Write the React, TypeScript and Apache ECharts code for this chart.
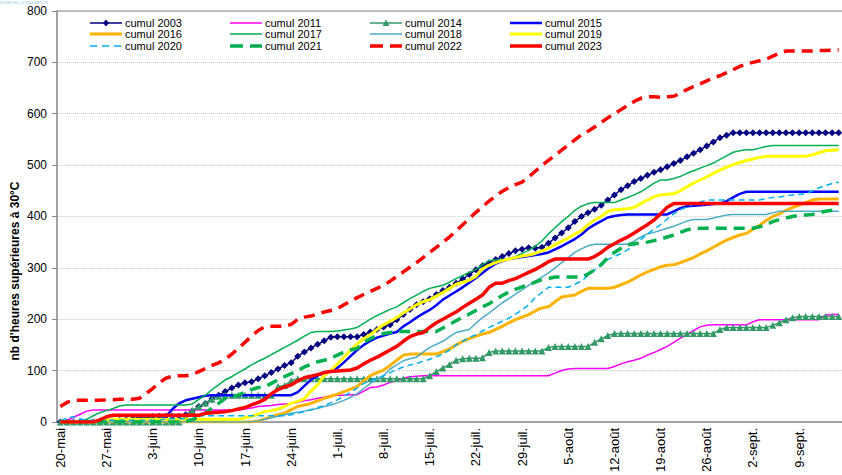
import React, { useEffect, useRef } from "react";
import * as echarts from "echarts";

// ---- categories (daily, 20 May -> 15 Sept) ----
const monthSpans: [string, number, number][] = [
  ["mai", 20, 31],
  ["juin", 1, 30],
  ["juil.", 1, 31],
  ["août", 1, 31],
  ["sept.", 1, 15],
];
const categories: string[] = [];
for (const [m, a, b] of monthSpans) for (let d = a; d <= b; d++) categories.push(`${d}-${m}`);

const yTicks = [0, 100, 200, 300, 400, 500, 600, 700, 800];

// ---- series values (cumulative hours > 30°C) ----
const s2003 = [
  0,0,0,0,0,0,0,1,2,3,
  4,6,8,9,10,11,11,11,11,14,
  21,30,36,45,52,59,66,72,76,78,
  84,90,96,103,110,115,128,136,144,151,
  158,165,166,166,166,166,170,175,180,185,
  189,199,209,219,228,234,240,248,256,262,
  270,278,287,296,304,310,316,322,328,333,
  336,339,338,340,348,358,368,378,390,400,
  407,414,422,432,442,452,460,468,474,480,
  486,491,497,503,509,516,523,530,537,545,
  553,558,563,563,563,563,563,563,563,563,
  563,563,563,563,563,563,563,563,563,
];
const s2011 = [
  0,3,9,15,21,23,23,23,23,23,
  23,23,23,23,23,23,23,23,23,23,
  23,23,23,23,23,23,23,23,25,27,
  30,31,32,34,35,36,38,41,43,46,
  48,51,52,52,53,53,60,67,68,72,
  77,80,85,88,89,90,90,90,90,90,
  90,90,90,90,90,90,90,90,90,90,
  90,90,90,90,90,95,100,103,104,104,
  104,104,104,104,108,113,117,120,124,130,
  135,141,147,155,163,170,178,185,188,189,
  189,189,189,189,189,195,199,199,199,199,
  199,199,199,199,199,199,208,209,209,
];
const s2014 = [
  0,0,0,0,0,0,0,0,0,0,
  0,0,0,0,0,0,0,0,0,12,
  22,30,37,44,50,52,52,52,52,52,
  52,52,52,69,71,80,84,84,84,84,
  84,84,84,84,84,84,84,84,84,84,
  84,84,84,84,84,84,90,98,105,112,
  120,123,124,124,125,135,138,138,138,138,
  138,138,138,138,145,147,147,147,147,147,
  147,155,162,168,172,172,172,172,172,172,
  172,172,172,172,172,172,172,172,172,172,
  180,184,184,184,184,184,184,184,188,193,
  199,203,205,205,205,205,205,205,205,
];
const s2015 = [
  0,0,0,0,0,0,0,0,0,0,
  0,0,0,2,4,5,10,25,36,42,
  45,48,51,52,52,52,52,52,52,52,
  52,52,52,52,52,52,58,70,82,90,
  95,99,105,116,128,140,150,158,164,168,
  172,175,186,194,203,211,218,227,238,246,
  254,262,271,280,290,300,308,313,317,319,
  321,323,325,327,330,336,342,349,356,365,
  376,384,391,398,401,403,404,404,404,404,
  404,404,404,410,416,420,421,422,423,424,
  425,430,437,444,448,448,448,448,448,448,
  448,448,448,448,448,448,448,448,448,
];
const s2016 = [
  0,0,0,0,0,0,0,0,0,0,
  0,0,0,0,0,0,0,0,0,0,
  0,0,0,0,0,0,0,0,0,0,
  2,6,10,14,17,24,30,33,36,41,
  46,50,54,59,64,69,80,90,96,101,
  110,120,130,132,132,132,132,132,137,142,
  150,157,162,167,171,174,180,186,193,199,
  204,209,216,222,224,234,243,245,247,254,
  260,260,260,260,262,267,272,279,286,292,
  297,302,305,306,310,315,320,327,333,340,
  347,354,359,364,367,375,383,392,400,405,
  412,417,422,427,432,434,434,434,434,
];
const s2017 = [
  0,0,0,0,5,12,18,22,26,31,
  33,33,33,33,33,33,33,33,33,33,
  35,44,52,63,72,82,88,96,103,111,
  118,124,131,138,145,152,159,167,174,176,
  176,176,177,179,181,184,192,200,207,213,
  219,224,232,240,247,254,260,263,266,272,
  279,285,291,297,306,314,315,316,317,322,
  328,334,342,352,366,378,390,400,412,420,
  425,427,427,427,427,432,437,442,448,456,
  465,471,471,474,478,484,489,494,499,504,
  511,518,525,528,530,530,533,536,538,538,
  538,538,538,538,538,538,538,538,538,
];
const s2018 = [
  0,0,0,0,0,0,0,0,0,0,
  0,0,0,0,0,0,0,0,0,0,
  0,0,0,0,0,0,0,0,0,0,
  2,5,8,11,14,17,19,21,23,26,
  30,33,37,42,48,55,65,75,83,90,
  103,111,119,123,126,136,145,151,157,166,
  174,177,180,192,203,212,222,232,240,249,
  257,266,274,282,290,300,310,320,330,337,
  343,346,346,346,346,346,346,352,360,366,
  369,373,377,381,386,391,394,394,394,397,
  400,403,404,404,404,404,404,404,407,410,
  410,410,410,410,410,410,410,410,410,
];
const s2019 = [
  0,0,0,0,0,0,2,3,5,5,
  5,5,5,5,5,5,5,5,5,5,
  5,5,5,5,5,5,5,5,8,11,
  15,20,22,25,30,36,40,45,60,72,
  90,100,113,126,140,152,162,170,180,189,
  196,203,212,220,228,234,238,245,252,260,
  268,272,276,283,298,305,310,314,317,320,
  323,325,328,333,338,345,352,358,366,372,
  384,393,400,410,413,414,415,418,425,432,
  438,442,443,444,450,458,465,471,477,484,
  490,496,501,505,509,512,515,517,517,517,
  517,517,517,517,520,524,528,529,530,
];
const s2020 = [
  2,8,10,6,3,3,3,3,3,3,
  3,3,3,3,3,3,6,6,6,6,
  6,12,12,12,12,12,12,12,12,12,
  12,12,12,12,12,14,17,20,24,28,
  32,37,43,50,58,66,75,80,85,90,
  96,102,107,111,114,118,122,127,132,140,
  150,157,164,170,177,184,190,196,202,210,
  218,228,242,252,262,262,262,262,268,274,
  285,296,306,316,322,328,335,344,355,366,
  375,384,395,405,413,419,424,428,432,432,
  432,432,432,432,432,432,432,435,437,438,
  440,442,443,444,450,456,460,464,467,
];
const s2021 = [
  0,0,0,0,0,0,0,0,0,0,
  0,0,0,0,0,0,0,0,0,1,
  4,10,17,27,36,46,50,52,58,63,
  67,69,75,82,88,94,100,107,112,117,
  120,124,130,136,140,143,155,162,168,172,
  174,176,176,176,176,176,176,176,183,190,
  197,204,210,217,224,230,238,246,253,258,
  263,267,272,277,279,282,282,282,282,282,
  288,296,306,320,330,338,345,347,348,350,
  353,356,360,364,369,374,376,377,377,377,
  377,377,377,377,377,377,380,384,390,394,
  397,400,402,403,404,407,410,412,413,
];
const s2022 = [
  30,38,42,42,42,42,42,43,43,44,
  44,44,46,55,65,76,85,89,90,90,
  92,98,104,110,115,122,132,143,155,167,
  178,185,186,186,186,190,200,204,206,210,
  214,217,220,228,235,242,248,254,260,266,
  274,283,292,301,310,320,330,340,350,360,
  372,384,396,408,419,430,440,449,456,462,
  467,477,488,499,509,519,529,539,549,559,
  566,574,583,592,600,608,616,624,630,633,
  633,632,633,634,640,647,653,658,664,670,
  674,680,686,692,697,700,703,706,712,718,
  722,722,722,722,722,723,723,724,724,
];
const s2023 = [
  0,0,0,0,0,0,4,10,13,13,
  13,13,13,13,13,13,13,13,13,13,
  13,13,17,18,19,20,22,25,28,33,
  38,44,55,63,68,72,80,86,89,92,
  96,98,99,100,101,105,113,120,126,133,
  140,147,157,166,171,174,184,193,200,207,
  214,223,231,239,247,262,270,270,275,279,
  285,291,297,304,312,317,317,317,317,317,
  317,322,330,340,347,354,360,368,376,384,
  393,405,418,425,425,425,425,425,425,425,
  425,425,425,425,425,425,425,425,425,425,
  425,425,425,425,425,425,425,425,425,
];

const seriesNames = [
  "cumul 2003", "cumul 2011", "cumul 2014", "cumul 2015",
  "cumul 2016", "cumul 2017", "cumul 2018", "cumul 2019",
  "cumul 2020", "cumul 2021", "cumul 2022", "cumul 2023",
];
const seriesData = [s2003, s2011, s2014, s2015, s2016, s2017, s2018, s2019, s2020, s2021, s2022, s2023];

const yTitle = "nb d'heures supérieures à 30°C";
const watermark = "ROMETEO & IRRIGATION";

type Style = { color: string; width: number; dash?: number[]; legendDash?: number[]; symbol?: string };
const styles: Style[] = [
  { color: "#000080", width: 1.5, symbol: "diamond" },
  { color: "#FF00FF", width: 1.5 },
  { color: "#339966", width: 1.5, symbol: "triangle" },
  { color: "#0000FF", width: 2.5 },
  { color: "#FFB300", width: 3 },
  { color: "#00B050", width: 1.5 },
  { color: "#4BACC6", width: 1.5 },
  { color: "#FFFF00", width: 3 },
  { color: "#00B0F0", width: 1.5, dash: [6, 4], legendDash: [7, 5] },
  { color: "#00B050", width: 3.5, dash: [11, 7], legendDash: [13, 7] },
  { color: "#FF0000", width: 3.5, dash: [11, 7], legendDash: [13, 7] },
  { color: "#FF0000", width: 3.5 },
];

const FONT = "'Liberation Sans', Arial, sans-serif";

function legendGraphics() {
  const colLeft = [90, 230, 370, 510];
  const rowCenter = [23, 34, 46];
  const els: any[] = [];
  seriesNames.forEach((name, i) => {
    const st = styles[i];
    const x0 = colLeft[i % 4];
    const y = rowCenter[Math.floor(i / 4)];
    els.push({
      type: "line",
      shape: { x1: x0, y1: y, x2: x0 + 32, y2: y },
      style: { stroke: st.color, lineWidth: st.width, lineDash: st.legendDash || null },
      z: 50,
    });
    const cx = x0 + 16;
    if (st.symbol === "diamond") {
      els.push({
        type: "polygon",
        shape: { points: [[cx, y - 3.5], [cx + 3, y], [cx, y + 3.5], [cx - 3, y]] },
        style: { fill: st.color },
        z: 51,
      });
    } else if (st.symbol === "triangle") {
      els.push({
        type: "polygon",
        shape: { points: [[cx, y - 3.5], [cx + 3.5, y + 3], [cx - 3.5, y + 3]] },
        style: { fill: st.color },
        z: 51,
      });
    }
    els.push({
      type: "text",
      x: x0 + 35,
      y,
      style: {
        text: name,
        fontSize: 11,
        fill: "#000",
        fontFamily: FONT,
        textVerticalAlign: "middle",
      },
      z: 51,
    });
  });
  return els;
}

export default function App() {
  const ref = useRef<HTMLDivElement>(null);
  useEffect(() => {
    if (!ref.current) return;
    const chart = echarts.init(ref.current, undefined, { renderer: "svg" });

    const series = seriesNames.map((name, i) => {
      const st = styles[i];
      return {
        name,
        type: "line",
        data: seriesData[i],
        showSymbol: !!st.symbol,
        showAllSymbol: true,
        symbol: st.symbol || "none",
        symbolSize: 7,
        itemStyle: { color: st.color },
        lineStyle: { color: st.color, width: st.width, type: st.dash ? st.dash : "solid" },
        emphasis: { disabled: true },
        z: 2 + i,
      };
    });

    chart.setOption({
      animation: false,
      textStyle: { fontFamily: FONT },
      grid: { left: 57, right: 0, top: 11, bottom: 46, containLabel: false },
      xAxis: {
        type: "category",
        data: categories,
        boundaryGap: true,
        axisLine: { lineStyle: { color: "#868686", width: 1.5 } },
        axisTick: { alignWithLabel: true, interval: 6, length: 5, lineStyle: { color: "#868686" } },
        axisLabel: {
          interval: 6,
          rotate: 90,
          margin: 6,
          fontSize: 13,
          color: "#000",
          fontFamily: FONT,
        },
        splitLine: { show: false },
      },
      yAxis: {
        type: "value",
        min: yTicks[0],
        max: yTicks[yTicks.length - 1],
        interval: 100,
        axisLine: { show: true, lineStyle: { color: "#868686", width: 1.5 } },
        axisTick: { show: true, length: 5, lineStyle: { color: "#868686" } },
        axisLabel: { fontSize: 12, lineHeight: 12, color: "#000", margin: 10, fontFamily: FONT },
        splitLine: { show: true, lineStyle: { color: "#cfcfcf", type: "dotted", width: 1 } },
      },
      graphic: [
        {
          type: "line",
          shape: { x1: 57, y1: 11, x2: 842, y2: 11 },
          style: { stroke: "#8c8c8c", lineWidth: 1 },
          z: 100,
        },
        {
          type: "text",
          x: 0,
          y: 0,
          style: { text: watermark, fontSize: 4, fill: "#8fc6ea", fontFamily: FONT, textVerticalAlign: "top" },
        },
        {
          type: "text",
          x: 15,
          y: 271,
          rotation: Math.PI / 2,
          style: {
            text: yTitle,
            fontSize: 12,
            fontWeight: "bold",
            fill: "#000",
            fontFamily: FONT,
            textAlign: "center",
            textVerticalAlign: "middle",
          },
        },
        ...legendGraphics(),
      ],
      series,
    });
    return () => chart.dispose();
  }, []);
  return (
    <div
      ref={ref}
      style={{ position: "fixed", left: 0, top: 0, width: 842, height: 475, background: "#fff" }}
    />
  );
}
